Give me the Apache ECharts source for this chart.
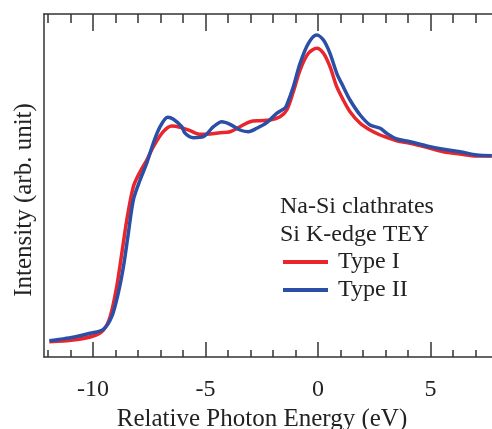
<!DOCTYPE html>
<html>
<head>
<meta charset="utf-8">
<script src="https://cdn.jsdelivr.net/npm/echarts@6/dist/echarts.min.js"></script>
<style>
  html, body { margin: 0; padding: 0; background: #fff; }
  #chart { width: 492px; height: 429px; }
</style>
</head>
<body>
<div id="chart"></div>
<script>
// photon energy (eV, relative) and intensity (arb. unit)
var typeIEnergy = [-11.94, -10.88, -9.99, -9.54, -9.24, -8.95, -8.72, -8.50, -8.21, -7.91, -7.61, -7.32,
    -6.88, -6.50, -6.13, -5.69, -5.24, -4.80, -4.36, -3.91, -3.47, -3.02, -2.58, -2.13, -1.69, -1.39,
    -1.10, -0.80, -0.43, -0.06, 0.24, 0.53, 0.83, 1.12, 1.42, 1.87, 2.31, 2.76, 3.05, 3.50, 4.09,
    4.83, 5.57, 6.31, 7.05, 7.72];
var typeIIntensity = [15.3, 17, 21, 27, 40.3, 70.3, 104, 137, 170.3, 185.3, 197, 210.3,
    225.3, 231, 229.7, 226.3, 222.7, 223, 224.3, 225.3, 230.3, 235.3, 236.3, 237, 240.3, 247,
    265.3, 287, 303.7, 308.7, 303.7, 290.3, 270.3, 257, 245.3, 233.7, 227, 222, 219.7, 216.3, 213.7,
    209.7, 205.3, 203, 201, 201];

var typeIIEnergy = [-11.94, -11.47, -10.88, -10.13, -9.54, -9.17, -8.88, -8.65, -8.43, -8.21, -7.91, -7.61,
    -7.32, -7.02, -6.68, -6.43, -6.06, -5.91, -5.54, -5.10, -4.65, -4.28, -3.91, -3.47, -3.10, -2.72,
    -2.28, -1.84, -1.47, -1.39, -1.10, -0.80, -0.43, -0.06, 0.24, 0.53, 0.83, 1.12, 1.42, 1.87, 2.31,
    2.76, 3.05, 3.50, 4.09, 4.83, 5.57, 6.31, 7.05, 7.72];
var typeIIIntensity = [16.3, 17.7, 19.7, 23.7, 27.7, 40.3, 64, 90.3, 124, 157, 177, 194,
    214, 230.3, 239.7, 237.7, 230.3, 223.7, 219.3, 220.3, 230.3, 235.3, 232.7, 227, 225.3, 228.7,
    234.3, 243.7, 249, 252, 270.3, 293.7, 313.7, 322, 317, 303.7, 283.7, 270.3, 257, 242, 232,
    228.7, 223.7, 218, 215.3, 211, 207.7, 205.3, 202, 201.3];

var majorTicks = [-10, -5, 0, 5];
var minorTicks = [-12, -11, -10, -9, -8, -7, -6, -5, -4, -3, -2, -1, 0, 1, 2, 3, 4, 5, 6, 7];

var xMin = -12.18, xMax = 7.73;
var serif = 'Liberation Serif';
var axisColor = '#333';
var textColor = '#222';

function pairs(xs, ys) {
    return xs.map(function (x, i) { return [x, ys[i]]; });
}

function tickAxis(position, tickValues, len, showLine) {
    return {
        type: 'value',
        position: position,
        min: xMin,
        max: xMax,
        splitLine: { show: false },
        axisLine: { show: showLine, onZero: false, lineStyle: { color: axisColor, width: 1.5 } },
        axisTick: { show: true, inside: true, length: len, customValues: tickValues,
            lineStyle: { color: axisColor, width: 1.5 } },
        axisLabel: { show: false }
    };
}

var chart = echarts.init(document.getElementById('chart'), null, { renderer: 'canvas' });

var bottomMajor = tickAxis('bottom', majorTicks, 15, true);
bottomMajor.axisLabel = {
    show: true, customValues: majorTicks, margin: 21,
    fontFamily: serif, fontSize: 24, color: textColor
};
bottomMajor.name = 'Relative Photon Energy (eV)';
bottomMajor.nameLocation = 'middle';
bottomMajor.nameGap = 50;
bottomMajor.nameTextStyle = { fontFamily: serif, fontSize: 25, color: textColor, padding: [0, 12, 0, 0] };

var option = {
    animation: false,
    backgroundColor: '#fff',
    grid: { left: 44, right: 0, top: 14, bottom: 72, containLabel: false, outerBoundsMode: 'none' },
    title: {
        text: 'Na-Si clathrates\nSi K-edge TEY',
        left: 280,
        top: 193,
        padding: 0,
        textStyle: { fontFamily: serif, fontSize: 24, fontWeight: 'normal', color: textColor, lineHeight: 27.5 }
    },
    legend: {
        data: ['Type I', 'Type II'],
        orient: 'vertical',
        left: 283,
        top: 250,
        padding: 0,
        icon: 'rect',
        itemWidth: 45,
        itemHeight: 4,
        itemGap: 4,
        textStyle: { fontFamily: serif, fontSize: 24, color: textColor, padding: [0, 0, 0, 5] }
    },
    graphic: [{
        type: 'text',
        x: 24,
        y: 200,
        rotation: Math.PI / 2,
        style: {
            text: 'Intensity (arb. unit)',
            font: '25px "Liberation Serif"',
            fill: textColor,
            textAlign: 'center',
            textVerticalAlign: 'middle'
        }
    }],
    xAxis: [
        bottomMajor,
        tickAxis('bottom', minorTicks, 7, false),
        tickAxis('top', majorTicks, 17, true),
        tickAxis('top', minorTicks, 9, false)
    ],
    yAxis: {
        type: 'value',
        min: 0,
        max: 343,
        splitLine: { show: false },
        axisLine: { show: true, onZero: false, lineStyle: { color: axisColor, width: 1.5 } },
        axisTick: { show: false },
        axisLabel: { show: false }
    },
    series: [
        {
            name: 'Type I',
            type: 'line',
            xAxisIndex: 0,
            data: pairs(typeIEnergy, typeIIntensity),
            smooth: 0.3,
            showSymbol: false,
            symbol: 'none',
            color: '#e8262c',
            lineStyle: { width: 3.5, color: '#e8262c' }
        },
        {
            name: 'Type II',
            type: 'line',
            xAxisIndex: 0,
            data: pairs(typeIIEnergy, typeIIIntensity),
            smooth: 0.3,
            showSymbol: false,
            symbol: 'none',
            color: '#2b4fa6',
            lineStyle: { width: 3.5, color: '#2b4fa6' }
        }
    ]
};

chart.setOption(option);
</script>
</body>
</html>
